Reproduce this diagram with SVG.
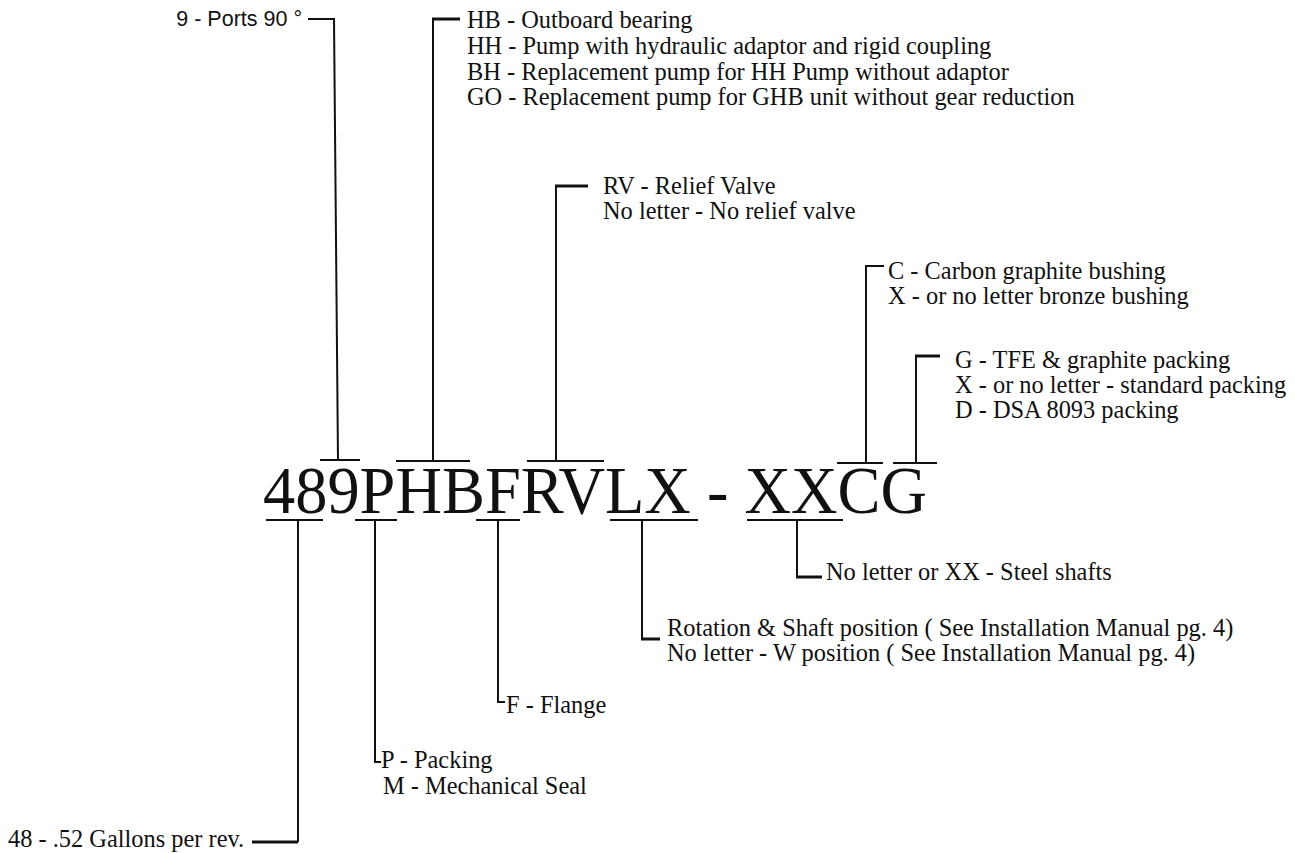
<svg xmlns="http://www.w3.org/2000/svg" width="1295" height="853" viewBox="0 0 1295 853">
<style>
.lbl{font-family:"Liberation Serif","Times New Roman",serif;font-size:24.4px;fill:#111}
.sans{font-family:"Liberation Sans",Arial,sans-serif;font-size:21.5px;fill:#111}
.big{font-family:"Liberation Serif","Times New Roman",serif;font-size:67px;fill:#111}
.ln{stroke:#111;stroke-width:2;fill:none}
.stub{stroke:#111;stroke-width:3;fill:none}
</style>
<rect width="1295" height="853" fill="#fff"/>
<g id="code">
<text class="big" x="263" y="513" textLength="664" lengthAdjust="spacingAndGlyphs">489PHBFRVLX - XXCG</text>
</g>
<g id="connectors">
<g class="ln">
<path d="M266 520H323M298 520V842"/>
<path d="M320 460H360M338 460L334 19H308"/>
<path d="M355 520H397M375 520V762H381"/>
<path d="M396 461H470M433 461V19"/>
<path d="M476 520H520M498 520V702H505"/>
<path d="M527 461H604M556 461V186"/>
<path d="M610 520H698M642 520V639"/>
<path d="M747 520H843M797 520V577"/>
<path d="M837 463H883M866 463V266H884"/>
<path d="M893 463H937M916 463V356"/>
</g>
<g class="stub">
<path d="M298 842H252"/>
<path d="M432 19H460"/>
<path d="M555 186H588"/>
<path d="M641 639H660"/>
<path d="M796 577H822"/>
<path d="M915 356H940"/>
</g>
</g>
<g id="n-ports"><text class="sans" x="302" y="26" text-anchor="end">9 - Ports 90 °</text></g>
<g id="n-hb" class="lbl">
<text x="467" y="28">HB - Outboard bearing</text>
<text x="467" y="54">HH - Pump with hydraulic adaptor and rigid coupling</text>
<text x="467" y="80">BH - Replacement pump for HH Pump without adaptor</text>
<text x="467" y="105">GO - Replacement pump for GHB unit without gear reduction</text>
</g>
<g id="n-rv" class="lbl">
<text x="603" y="194">RV - Relief Valve</text>
<text x="603" y="219">No letter - No relief valve</text>
</g>
<g id="n-c" class="lbl">
<text x="888" y="279">C - Carbon graphite bushing</text>
<text x="888" y="304">X - or no letter bronze bushing</text>
</g>
<g id="n-g" class="lbl">
<text x="955" y="368">G - TFE &amp; graphite packing</text>
<text x="955" y="393">X - or no letter - standard packing</text>
<text x="955" y="418">D - DSA 8093 packing</text>
</g>
<g id="n-xx" class="lbl"><text x="826" y="580">No letter or XX - Steel shafts</text></g>
<g id="n-lx" class="lbl">
<text x="667" y="636">Rotation &amp; Shaft position ( See Installation Manual pg. 4)</text>
<text x="667" y="661">No letter - W position ( See Installation Manual pg. 4)</text>
</g>
<g id="n-f" class="lbl"><text x="506" y="713">F - Flange</text></g>
<g id="n-p" class="lbl">
<text x="381" y="768">P - Packing</text>
<text x="383" y="794">M - Mechanical Seal</text>
</g>
<g id="n-48" class="lbl"><text x="8" y="847">48 - .52 Gallons per rev.</text></g>
</svg>
